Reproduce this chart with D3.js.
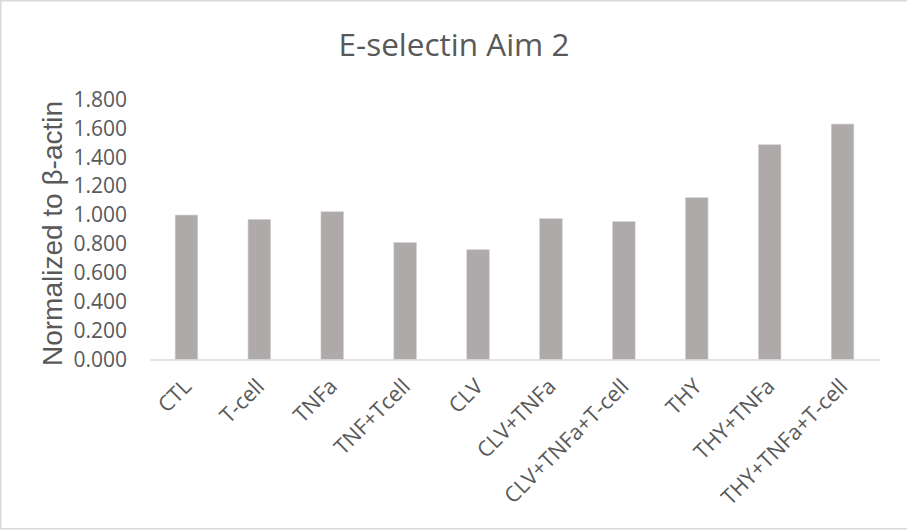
<!DOCTYPE html>
<html>
<head>
<meta charset="utf-8">
<script src="https://cdn.jsdelivr.net/npm/d3@7"></script>
<style>
  html, body { margin: 0; padding: 0; background: #fff; }
  svg { display: block; }
</style>
</head>
<body>
<svg id="chart" width="907" height="531"></svg>
<script>
// E-selectin expression per treatment, normalized to beta-actin
const categories = ["CTL", "T-cell", "TNFa", "TNF+Tcell", "CLV", "CLV+TNFa",
  "CLV+TNFa+T-cell", "THY", "THY+TNFa", "THY+TNFa+T-cell"];
const values = [1.000, 0.970, 1.023, 0.810, 0.760, 0.975, 0.955, 1.120, 1.487, 1.630];
const yTicks = [0, 0.2, 0.4, 0.6, 0.8, 1.0, 1.2, 1.4, 1.6, 1.8];
const titleText = "E-selectin Aim 2";
const yAxisTitle = "Normalized to β-actin";

const svg = d3.select("#chart");
const W = 907, H = 531;
const plot = { left: 150, right: 879, top: 99.5, bottom: 359.5 };
const textColor = "#595959";
const tickFont = "'Open Sans', 'Noto Sans', sans-serif";

// chart area frame
svg.append("rect")
  .attr("x", 0.75).attr("y", 0.75)
  .attr("width", W + 2).attr("height", 528)
  .attr("fill", "#fff")
  .attr("stroke", "#d9d9d9").attr("stroke-width", 1.5);

const x = d3.scaleBand()
  .domain(categories)
  .range([plot.left, plot.right])
  .paddingInner(0.69)
  .paddingOuter(0.345);

const y = d3.scaleLinear()
  .domain([0, 1.8])
  .range([plot.bottom, plot.top]);

// bars
svg.append("g")
  .selectAll("rect")
  .data(categories.map((c, i) => ({ c, v: values[i] })))
  .join("rect")
  .attr("x", d => x(d.c))
  .attr("y", d => y(d.v))
  .attr("width", x.bandwidth())
  .attr("height", d => y(0) - y(d.v))
  .attr("fill", "#aeaaaa")
  .attr("stroke", "#d4d2d2")
  .attr("stroke-width", 0.6);

// y axis labels
const yAxis = d3.axisLeft(y)
  .tickValues(yTicks)
  .tickFormat(d3.format(".3f"))
  .tickSize(0)
  .tickPadding(23);

const gy = svg.append("g")
  .attr("transform", `translate(${plot.left},0)`)
  .call(yAxis);
gy.select(".domain").remove();
gy.selectAll("text")
  .attr("fill", textColor)
  .style("font-family", tickFont)
  .style("font-size", "21px");

// x axis: baseline and rotated category labels
const xAxis = d3.axisBottom(x).tickSize(0).tickPadding(0);
const gx = svg.append("g")
  .attr("transform", `translate(0,${y(0)})`)
  .call(xAxis);
gx.select(".domain")
  .attr("stroke", "#d9d9d9")
  .attr("stroke-width", 1.5);
gx.selectAll(".tick text")
  .attr("fill", textColor)
  .style("font-family", tickFont)
  .style("font-size", "21.5px")
  .attr("text-anchor", "end")
  .attr("y", 0)
  .attr("dy", "0.35em")
  .attr("transform", "translate(1,23) rotate(-45)");

// chart title
svg.append("text")
  .attr("x", 454)
  .attr("y", 56)
  .attr("text-anchor", "middle")
  .attr("fill", textColor)
  .style("font-family", tickFont)
  .style("font-size", "31.5px")
  .text(titleText);

// y axis title
svg.append("text")
  .attr("transform", `translate(52,${(plot.top + plot.bottom) / 2 + 4}) rotate(-90)`)
  .attr("text-anchor", "middle")
  .attr("dy", "0.35em")
  .attr("fill", textColor)
  .style("font-family", "'Liberation Sans', Arial, sans-serif")
  .style("font-size", "28px")
  .text(yAxisTitle);
</script>
</body>
</html>
